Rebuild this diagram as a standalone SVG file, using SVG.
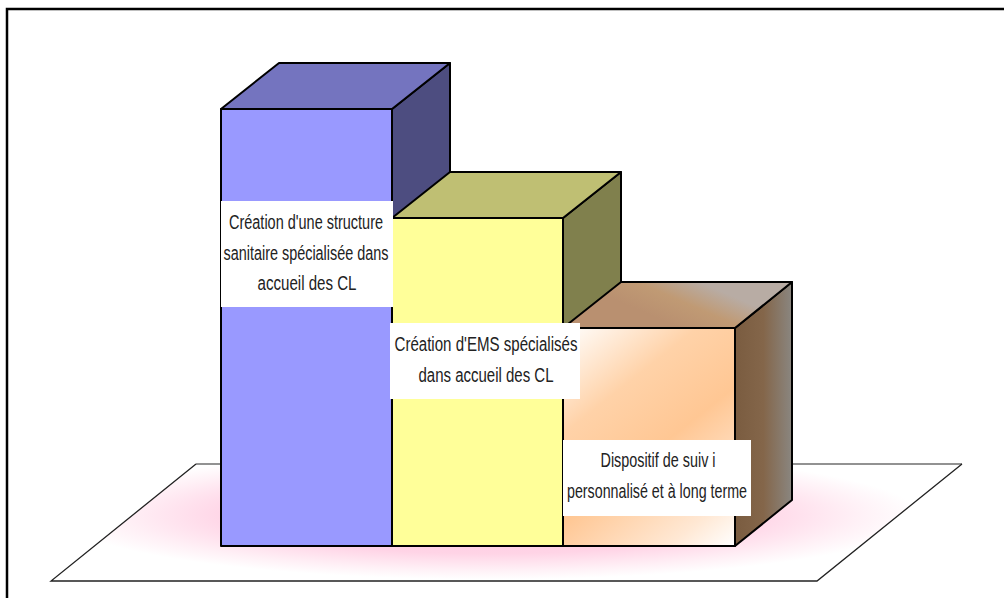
<svg xmlns="http://www.w3.org/2000/svg" width="1004" height="598" viewBox="0 0 1004 598">
  <style>
    .edge { stroke: #000; stroke-width: 2; stroke-linejoin: round; }
    .label-box { fill: #fff; stroke: none; }
    .label { font-family: "Liberation Sans Narrow", "Liberation Sans", Arial, sans-serif; font-size: 20px; fill: #222; text-anchor: middle; }
  </style>
  <defs>
    <radialGradient id="floorGlow" cx="490" cy="515" r="430" gradientUnits="userSpaceOnUse" gradientTransform="translate(490 515) scale(1 0.15) translate(-490 -515)">
      <stop offset="0" stop-color="#ffc4dc"/>
      <stop offset="0.6" stop-color="#ffd4e6"/>
      <stop offset="0.85" stop-color="#fff0f6"/>
      <stop offset="1" stop-color="#ffffff"/>
    </radialGradient>
    <linearGradient id="orangeFront" x1="563" y1="328" x2="735" y2="546" gradientUnits="userSpaceOnUse">
      <stop offset="0" stop-color="#ffffff"/>
      <stop offset="0.3" stop-color="#ffd2a8"/>
      <stop offset="0.55" stop-color="#ffc794"/>
      <stop offset="0.85" stop-color="#ffe8d4"/>
      <stop offset="1" stop-color="#ffffff"/>
    </linearGradient>
    <linearGradient id="orangeTop" x1="680" y1="328" x2="700" y2="282" gradientUnits="userSpaceOnUse">
      <stop offset="0" stop-color="#b99070"/>
      <stop offset="0.5" stop-color="#c09a74"/>
      <stop offset="1" stop-color="#b8aca4"/>
    </linearGradient>
    <linearGradient id="orangeSide" x1="735" y1="0" x2="792" y2="0" gradientUnits="userSpaceOnUse">
      <stop offset="0" stop-color="#7a5c40"/>
      <stop offset="0.5" stop-color="#84664a"/>
      <stop offset="1" stop-color="#8a8680"/>
    </linearGradient>
  </defs>

  <!-- outer frame -->
  <rect x="7" y="9" width="1010" height="600" fill="#fff" stroke="#000" stroke-width="2.5"/>

  <!-- floor plane with soft pink glow -->
  <g id="floor">
    <polygon points="196,464 962,464 817,581 51,581" fill="url(#floorGlow)"/>
    <line x1="196" y1="464" x2="962" y2="464" stroke="#6e6e6e" stroke-width="1.5"/>
    <polyline points="962,464 817,581 51,581 196,464" fill="none" stroke="#222" stroke-width="1.3"/>
  </g>

  <!-- bar 1 -->
  <g id="bar-structure">
    <polygon class="edge" points="392,109 450,63 450,500 392,546" fill="#4d4d80"/>
    <polygon class="edge" points="221,109 279,63 450,63 392,109" fill="#7474bf"/>
    <rect class="edge" x="221" y="109" width="171" height="437" fill="#9999ff"/>
  </g>

  <!-- bar 2 -->
  <g id="bar-ems">
    <polygon class="edge" points="563,218 621,172 621,500 563,546" fill="#80804d"/>
    <polygon class="edge" points="392,218 450,172 621,172 563,218" fill="#bfbf73"/>
    <rect class="edge" x="392" y="218" width="171" height="328" fill="#ffff99"/>
  </g>

  <!-- bar 3 -->
  <g id="bar-suivi">
    <polygon class="edge" points="735,328 792,282 792,500 735,546" fill="url(#orangeSide)"/>
    <polygon class="edge" points="563,328 621,282 792,282 735,328" fill="url(#orangeTop)"/>
    <rect class="edge" x="563" y="328" width="172" height="218" fill="url(#orangeFront)"/>
  </g>

  <!-- labels -->
  <g id="label-structure">
    <rect class="label-box" x="221" y="201" width="172" height="106"/>
    <text class="label" x="306" y="229" textLength="154" lengthAdjust="spacingAndGlyphs">Création d'une structure</text>
    <text class="label" x="306" y="260" textLength="165" lengthAdjust="spacingAndGlyphs">sanitaire spécialisée dans</text>
    <text class="label" x="307" y="290" textLength="99" lengthAdjust="spacingAndGlyphs">accueil des CL</text>
  </g>
  <g id="label-ems">
    <rect class="label-box" x="390" y="323" width="190" height="76"/>
    <text class="label" x="486" y="351" textLength="183" lengthAdjust="spacingAndGlyphs">Création d'EMS spécialisés</text>
    <text class="label" x="486" y="382" textLength="135" lengthAdjust="spacingAndGlyphs">dans accueil des CL</text>
  </g>
  <g id="label-suivi">
    <rect class="label-box" x="563" y="440" width="188" height="76"/>
    <text class="label" x="658" y="467" textLength="115" lengthAdjust="spacingAndGlyphs">Dispositif de suiv i</text>
    <text class="label" x="657" y="498" textLength="180" lengthAdjust="spacingAndGlyphs">personnalisé et à long terme</text>
  </g>
</svg>
